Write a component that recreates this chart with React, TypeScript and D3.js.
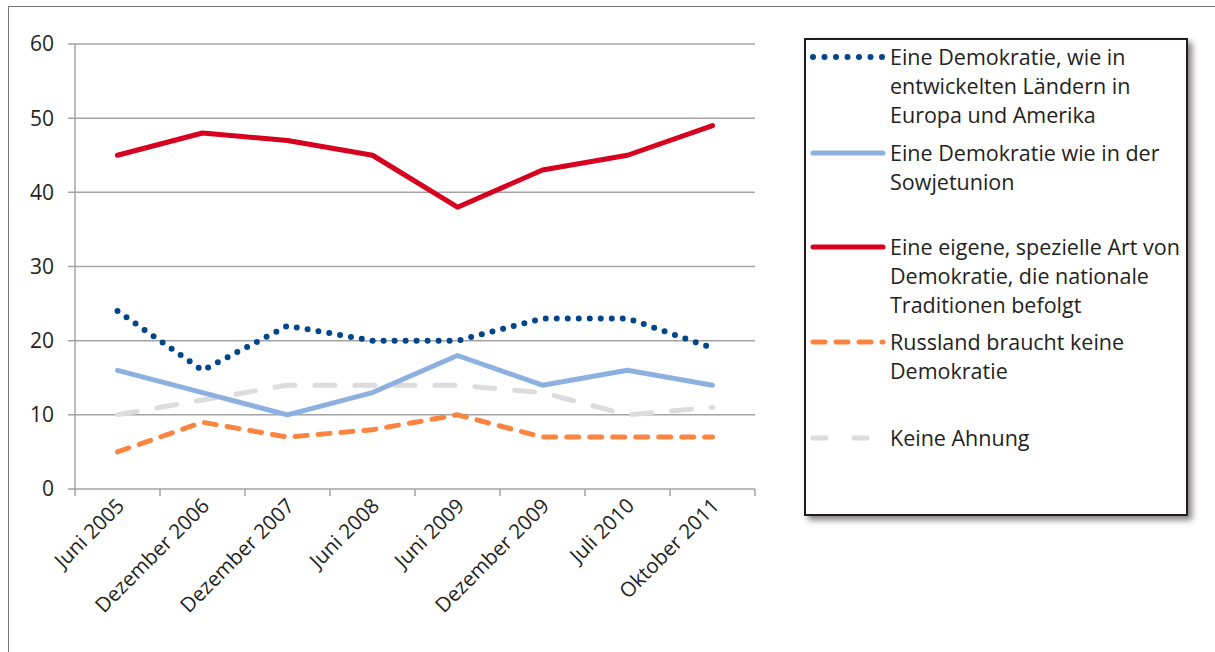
import { useRef, useEffect } from 'react';
import * as d3 from 'd3';

const categories = ['Juni  2005', 'Dezember 2006', 'Dezember 2007', 'Juni 2008', 'Juni 2009', 'Dezember 2009', 'Juli 2010', 'Oktober 2011'];
const westDemocracy = [24, 16, 22, 20, 20, 23, 23, 19];
const sovietDemocracy = [16, 13, 10, 13, 18, 14, 16, 14];
const ownDemocracy = [45, 48, 47, 45, 38, 43, 45, 49];
const noDemocracy = [5, 9, 7, 8, 10, 7, 7, 7];
const noIdea = [10, 12, 14, 14, 14, 13, 10, 11];
const yTicks = [0, 10, 20, 30, 40, 50, 60];

const series = [
  { label: ['Eine Demokratie, wie in', 'entwickelten Ländern in', 'Europa und Amerika'], values: westDemocracy, color: '#00468b', dash: '0 11', legendDash: '0 11.5', width: 6, legendY: 57 },
  { label: ['Eine Demokratie wie in der', 'Sowjetunion'], values: sovietDemocracy, color: '#8cb1e1', dash: null, legendDash: null, width: 5, legendY: 153 },
  { label: ['Eine eigene, spezielle Art von', 'Demokratie, die nationale', 'Traditionen befolgt'], values: ownDemocracy, color: '#d8001f', dash: null, legendDash: null, width: 5, legendY: 247 },
  { label: ['Russland braucht keine', 'Demokratie'], values: noDemocracy, color: '#fb8540', dash: '12 11', legendDash: '12 11', width: 5, legendY: 342 },
  { label: ['Keine Ahnung'], values: noIdea, color: '#dcdcdc', dash: '20 20', legendDash: '13 28', width: 5, legendY: 438 },
];

const FONT = '"Open Sans", sans-serif';

export default function App() {
  const svgRef = useRef<SVGSVGElement>(null);

  useEffect(() => {
    const svg = d3.select(svgRef.current);
    svg.selectAll('*').remove();

    // outer frame
    svg.append('rect')
      .attr('x', 8.5).attr('y', 6.5)
      .attr('width', 1300).attr('height', 700)
      .attr('fill', 'none').attr('stroke', '#777').attr('stroke-width', 1);

    const left = 75, right = 755, top = 44, bottom = 489;
    const x = d3.scaleBand().domain(categories).range([left, right]);
    const y = d3.scaleLinear().domain([0, 60]).range([bottom, top]);

    // gridlines + y labels
    yTicks.forEach((t) => {
      svg.append('line')
        .attr('x1', left - 7).attr('x2', right)
        .attr('y1', y(t)).attr('y2', y(t))
        .attr('stroke', '#a3a3a3').attr('stroke-width', 1.5);
      svg.append('text')
        .attr('x', 54).attr('y', y(t)).attr('dy', '0.35em')
        .attr('text-anchor', 'end')
        .attr('font-family', FONT).attr('font-size', 21)
        .attr('fill', '#231f20')
        .text(t);
    });

    // y axis
    svg.append('line')
      .attr('x1', left).attr('x2', left)
      .attr('y1', top).attr('y2', bottom)
      .attr('stroke', '#a3a3a3').attr('stroke-width', 1.5);

    // x ticks at band edges
    const edges = categories.map((c) => x(c)!).concat([right]);
    edges.forEach((e) => {
      svg.append('line')
        .attr('x1', e).attr('x2', e)
        .attr('y1', bottom).attr('y2', bottom + 7)
        .attr('stroke', '#a3a3a3').attr('stroke-width', 1.5);
    });

    // x labels rotated
    categories.forEach((c) => {
      const cx = x(c)! + x.bandwidth() / 2 + 3;
      const cy = bottom + 13;
      svg.append('text')
        .attr('transform', `translate(${cx},${cy}) rotate(-45)`)
        .attr('text-anchor', 'end')
        .attr('dy', '0.35em')
        .attr('font-family', FONT).attr('font-size', 20.5)
        .attr('fill', '#231f20')
        .text(c);
    });

    const line = d3.line<number>()
      .x((_, i) => x(categories[i])! + x.bandwidth() / 2)
      .y((d) => y(d));

    // draw order: grey, orange, light blue, dotted, red
    const order = [4, 3, 1, 0, 2];
    order.forEach((i) => {
      const s = series[i];
      svg.append('path')
        .attr('d', line(s.values) || '')
        .attr('fill', 'none')
        .attr('stroke', s.color)
        .attr('stroke-width', s.width)
        .attr('stroke-linecap', 'round')
        .attr('stroke-linejoin', 'round')
        .attr('stroke-dasharray', s.dash);
    });

    // legend
    const defs = svg.append('defs');
    const f = defs.append('filter').attr('id', 'shadow').attr('x', '-5%').attr('y', '-5%').attr('width', '115%').attr('height', '115%');
    f.append('feGaussianBlur').attr('in', 'SourceAlpha').attr('stdDeviation', 3);
    f.append('feOffset').attr('dx', 4).attr('dy', 4).attr('result', 'b');
    f.append('feComponentTransfer').append('feFuncA').attr('type', 'linear').attr('slope', 0.5);
    const m = f.append('feMerge');
    m.append('feMergeNode');
    m.append('feMergeNode').attr('in', 'SourceGraphic');

    svg.append('rect')
      .attr('x', 805).attr('y', 39)
      .attr('width', 382).attr('height', 476)
      .attr('fill', '#fff').attr('stroke', '#231f20').attr('stroke-width', 2)
      .attr('filter', 'url(#shadow)');

    series.forEach((s) => {
      svg.append('line')
        .attr('x1', 813).attr('x2', 883)
        .attr('y1', s.legendY).attr('y2', s.legendY)
        .attr('stroke', s.color)
        .attr('stroke-width', s.width)
        .attr('stroke-linecap', 'round')
        .attr('stroke-dasharray', s.legendDash);
      s.label.forEach((t, j) => {
        svg.append('text')
          .attr('x', 890).attr('y', s.legendY + j * 29)
          .attr('dy', '0.35em')
          .attr('font-family', FONT).attr('font-size', 21.5)
          .attr('fill', '#231f20')
          .text(t);
      });
    });
  }, []);

  return (
    <svg ref={svgRef} width={1215} height={652}
      style={{ position: 'absolute', left: 0, top: 0, background: '#fff' }} />
  );
}
